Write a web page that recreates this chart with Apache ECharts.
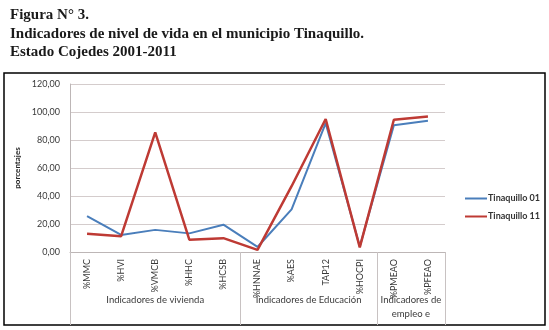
<!DOCTYPE html>
<html>
<head>
<meta charset="utf-8">
<script src="https://cdn.jsdelivr.net/npm/echarts@6/dist/echarts.min.js"></script>
<style>
  html, body { margin: 0; padding: 0; background: #fff; }
  #chart { width: 549px; height: 330px; }
</style>
</head>
<body>
<div id="chart"></div>
<script>
// indicadores (eje de categorías)
const categories = ['%MMC', '%HVI', '%VMCB', '%HHC', '%HCSB', '%HNNAE', '%AES', 'TAP12', '%HOCPI', '%PMEAO', '%PFEAO'];
// grupos de indicadores y sus límites (en número de categorías)
const groupNames = ['Indicadores de vivienda', 'Indicadores de Educación', 'Indicadores de\nempleo e'];
const groupBounds = [0, 5, 9, 11];

const tinaquillo01 = [25.7, 12.2, 15.8, 13.3, 19.5, 3.6, 30.5, 92, 4, 90.5, 93.8];
const tinaquillo11 = [13, 11.3, 85.5, 8.8, 9.9, 1.5, 47, 95, 3.3, 94.5, 96.8];

const yTicks = [0, 20, 40, 60, 80, 100, 120];

const chart = echarts.init(document.getElementById('chart'), null, { renderer: 'canvas' });

const labelFont = 'Lato, "Liberation Sans", sans-serif';
const gridColor = '#d4cccc';

// centros de cada grupo
const groupCenters = groupNames.map((_, i) => (groupBounds[i] + groupBounds[i + 1]) / 2);

const option = {
  backgroundColor: '#fff',
  animation: false,
  title: {
    text: 'Figura N° 3.\nIndicadores de nivel de vida en el municipio Tinaquillo.\nEstado Cojedes 2001-2011',
    left: 5,
    top: 1,
    textStyle: {
      fontFamily: '"Liberation Serif", serif',
      fontWeight: 'bold',
      fontSize: 15,
      lineHeight: 18.5,
      color: '#1a1a1a',
    },
  },
  graphic: [
    {
      type: 'rect',
      shape: { x: 4, y: 73, width: 541, height: 252 },
      style: { fill: 'none', stroke: '#000', lineWidth: 1.5 },
      silent: true,
    },
  ],
  legend: {
    orient: 'vertical',
    left: 460,
    top: 189,
    itemWidth: 22,
    itemHeight: 2,
    itemGap: 9,
    icon: 'rect',
    textStyle: {
      fontFamily: labelFont,
      fontSize: 9,
      fontWeight: 'bold',
      color: '#333',
      padding: [0, 0, 0, -4],
    },
    data: ['Tinaquillo 01', 'Tinaquillo 11'],
  },
  grid: {
    left: 70,
    right: 104,
    top: 84,
    bottom: 78,
  },
  xAxis: [
    {
      type: 'category',
      data: categories,
      boundaryGap: true,
      axisLine: { lineStyle: { color: '#bdb6b6', width: 1 } },
      axisTick: { show: false },
      axisLabel: {
        rotate: 90,
        interval: 0,
        margin: 7,
        fontFamily: labelFont,
        fontSize: 9,
        color: '#3a3a3a',
      },
    },
    {
      type: 'value',
      min: groupBounds[0],
      max: groupBounds[groupBounds.length - 1],
      position: 'bottom',
      axisLine: { show: false },
      splitLine: { show: false },
      axisTick: {
        show: true,
        customValues: groupBounds,
        length: 73,
        lineStyle: { color: '#c8c2c2', width: 1 },
      },
      axisLabel: {
        customValues: groupCenters,
        margin: 41,
        fontFamily: labelFont,
        fontSize: 9.5,
        lineHeight: 14,
        color: '#3a3a3a',
        align: 'center',
        formatter: (v) => groupNames[groupCenters.indexOf(v)],
      },
    },
  ],
  yAxis: {
    type: 'value',
    min: yTicks[0],
    max: yTicks[yTicks.length - 1],
    interval: 20,
    name: 'porcentajes',
    nameLocation: 'middle',
    nameGap: 44,
    nameRotate: 90,
    nameTextStyle: {
      fontFamily: labelFont,
      fontSize: 8,
      fontWeight: 'bold',
      color: '#222',
    },
    axisLine: { show: true, lineStyle: { color: '#bdb6b6' } },
    axisTick: { show: false },
    axisLabel: {
      margin: 10,
      fontFamily: labelFont,
      fontSize: 9,
      color: '#3a3a3a',
      formatter: (v) => v.toFixed(2).replace('.', ','),
    },
    splitLine: { lineStyle: { color: gridColor, width: 1 } },
  },
  series: [
    {
      name: 'Tinaquillo 01',
      type: 'line',
      data: tinaquillo01,
      symbol: 'none',
      itemStyle: { color: '#4a7ebb' },
      lineStyle: { color: '#4a7ebb', width: 2 },
    },
    {
      name: 'Tinaquillo 11',
      type: 'line',
      data: tinaquillo11,
      symbol: 'none',
      itemStyle: { color: '#be3a34' },
      lineStyle: { color: '#be3a34', width: 2.5 },
    },
  ],
};

chart.setOption(option);
</script>
</body>
</html>
